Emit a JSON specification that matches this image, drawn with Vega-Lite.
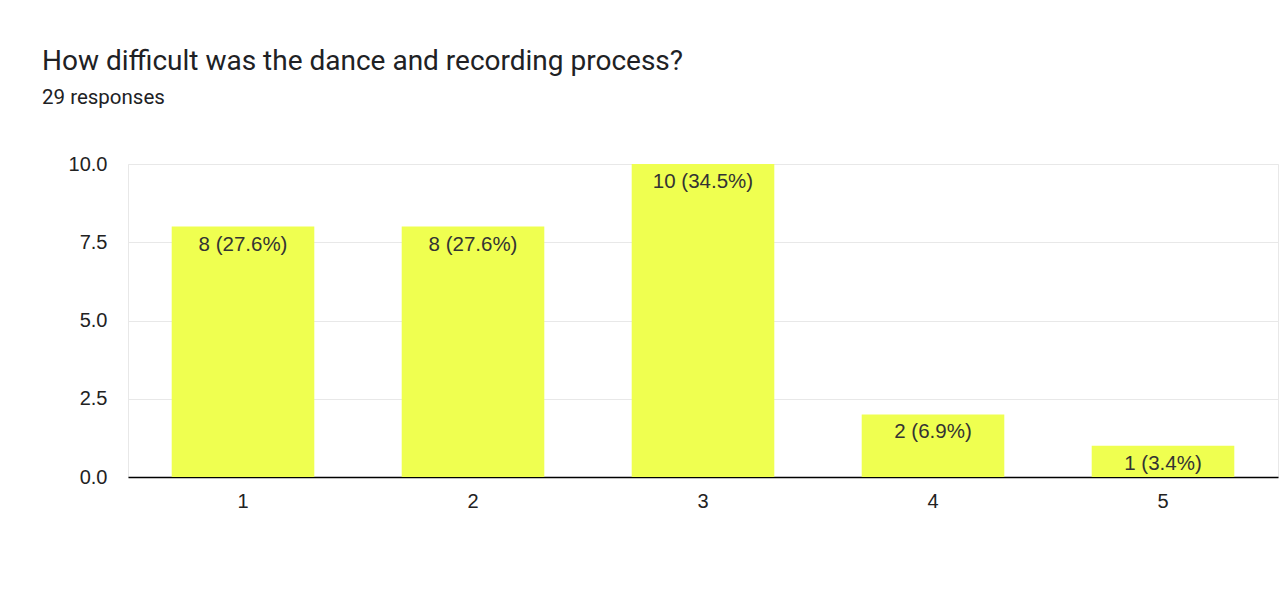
{
  "$schema": "https://vega.github.io/schema/vega-lite/v6.json",
  "description": "How difficult was the dance and recording process? Bar chart of 29 survey responses.",
  "autosize": {"type": "none"},
  "padding": {"left": 128, "top": 164, "right": 2, "bottom": 129},
  "width": 1150,
  "height": 313,
  "background": "white",
  "title": {
    "text": "How difficult was the dance and recording process?",
    "subtitle": "29 responses",
    "anchor": "start",
    "frame": "group",
    "dx": -86,
    "offset": 46,
    "font": "Roboto",
    "fontSize": 28,
    "fontWeight": "normal",
    "color": "#202124",
    "subtitleFont": "Roboto",
    "subtitleFontSize": 20.5,
    "subtitleColor": "#202124",
    "subtitlePadding": 12
  },
  "data": {
    "values": [
      {"answer": "1", "count": 8, "label": "8 (27.6%)"},
      {"answer": "2", "count": 8, "label": "8 (27.6%)"},
      {"answer": "3", "count": 10, "label": "10 (34.5%)"},
      {"answer": "4", "count": 2, "label": "2 (6.9%)"},
      {"answer": "5", "count": 1, "label": "1 (3.4%)"}
    ]
  },
  "encoding": {
    "x": {
      "field": "answer",
      "type": "ordinal",
      "title": null,
      "scale": {"paddingInner": 0.38, "paddingOuter": 0.19},
      "axis": {
        "labelAngle": 0,
        "ticks": false,
        "labelPadding": 14,
        "domainColor": "#000000",
        "domainWidth": 1.5,
        "labelFont": "Liberation Sans",
        "labelFontSize": 20,
        "labelColor": "#222222"
      }
    },
    "y": {
      "field": "count",
      "type": "quantitative",
      "title": null,
      "scale": {"domain": [0, 10], "nice": false},
      "axis": {
        "values": [0, 2.5, 5, 7.5, 10],
        "format": ".1f",
        "ticks": false,
        "domain": false,
        "labelPadding": 21,
        "gridColor": "#e8e8e8",
        "labelFont": "Liberation Sans",
        "labelFontSize": 20,
        "labelColor": "#222222"
      }
    }
  },
  "layer": [
    {"mark": {"type": "bar", "color": "#efff50"}},
    {
      "mark": {
        "type": "text",
        "baseline": "top",
        "dy": 8,
        "font": "Liberation Sans",
        "fontSize": 20.5,
        "color": "#333333"
      },
      "encoding": {"text": {"field": "label"}}
    }
  ],
  "config": {
    "view": {"stroke": "#e8e8e8"}
  }
}
